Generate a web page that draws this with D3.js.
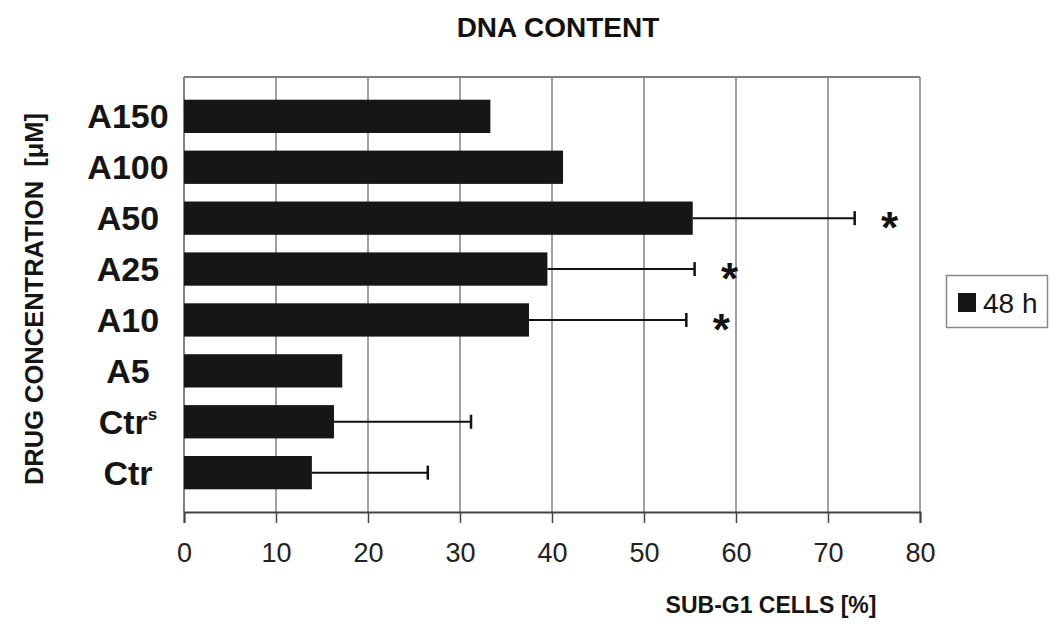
<!DOCTYPE html>
<html>
<head>
<meta charset="utf-8">
<script src="https://cdn.jsdelivr.net/npm/d3@7"></script>
<style>
  html, body { margin: 0; padding: 0; background: #fff; }
  svg { display: block; font-family: "Liberation Sans", Arial, sans-serif; }
</style>
</head>
<body>
<svg id="chart" width="1063" height="633"></svg>
<script>
// ---- data (top to bottom) ----
const categories = ["A150", "A100", "A50", "A25", "A10", "A5", "Ctrs", "Ctr"];
const values     = [33.3, 41.2, 55.3, 39.5, 37.5, 17.2, 16.3, 13.9];
const errors     = [null, null, 17.6, 16.0, 17.1, null, 14.9, 12.6];
const significant = [false, false, true, true, true, false, false, false];
const xTicks     = [0, 10, 20, 30, 40, 50, 60, 70, 80];
const seriesName = "48 h";

(function () {
const svg = d3.select("#chart");
const pLeft = 184, pRight = 920, pTop = 77, pBottom = 512;

const x = d3.scaleLinear().domain([0, 80]).range([pLeft, pRight]);
const y = d3.scaleBand().domain(categories).range([pTop, pBottom])
  .paddingInner(0.346).paddingOuter(0.446);

// title
svg.append("text").attr("x", 558).attr("y", 37).attr("text-anchor", "middle")
  .attr("font-size", 28).attr("font-weight", "bold").attr("fill", "#111")
  .text("DNA CONTENT");

// gridlines
svg.append("g").selectAll("line").data(xTicks.slice(1)).join("line")
  .attr("x1", d => x(d)).attr("x2", d => x(d))
  .attr("y1", pTop).attr("y2", pBottom)
  .attr("stroke", "#808080").attr("stroke-width", 1.5);

// plot border top / left
svg.append("line").attr("x1", pLeft).attr("x2", pRight).attr("y1", pTop).attr("y2", pTop)
  .attr("stroke", "#808080").attr("stroke-width", 2);
svg.append("line").attr("x1", pLeft).attr("x2", pLeft).attr("y1", pTop).attr("y2", pBottom)
  .attr("stroke", "#808080").attr("stroke-width", 2);

// bottom axis
const xAxis = d3.axisBottom(x).tickValues(xTicks).tickSize(11).tickPadding(20).tickFormat(d3.format("d"));
const gx = svg.append("g").attr("transform", `translate(0,${pBottom})`).call(xAxis);
gx.select(".domain").attr("stroke", "#444").attr("stroke-width", 2);
gx.selectAll(".tick line").attr("stroke", "#444").attr("stroke-width", 1.5);
gx.selectAll(".tick text").attr("font-size", 27).attr("fill", "#222")
  .attr("font-family", "'Liberation Sans', Arial, sans-serif");

// bars
svg.append("g").selectAll("rect").data(categories).join("rect")
  .attr("x", x(0))
  .attr("y", d => y(d))
  .attr("width", (d, i) => x(values[i]) - x(0))
  .attr("height", y.bandwidth())
  .attr("fill", "#161616");

// error bars
const eb = svg.append("g");
categories.forEach((c, i) => {
  if (errors[i] == null) return;
  const cy = y(c) + y.bandwidth() / 2;
  const x1 = x(values[i]), x2 = x(values[i] + errors[i]);
  eb.append("line").attr("x1", x1).attr("x2", x2).attr("y1", cy).attr("y2", cy)
    .attr("stroke", "#111").attr("stroke-width", 2);
  eb.append("line").attr("x1", x2).attr("x2", x2).attr("y1", cy - 7).attr("y2", cy + 7)
    .attr("stroke", "#111").attr("stroke-width", 2.5);
  if (significant[i]) {
    eb.append("text").attr("x", x2 + 35).attr("y", cy + 25)
      .attr("text-anchor", "middle").attr("font-size", 44).attr("font-weight", "bold")
      .attr("fill", "#111").text("*");
  }
});

// category labels
const lab = svg.append("g");
categories.forEach(c => {
  const cy = y(c) + y.bandwidth() / 2;
  const t = lab.append("text").attr("x", 128).attr("y", cy + 12)
    .attr("text-anchor", "middle").attr("font-size", 34).attr("font-weight", "bold")
    .attr("fill", "#151515");
  if (c === "Ctrs") {
    t.append("tspan").text("Ctr");
    t.append("tspan").attr("font-size", 17).attr("dy", -14).text("s");
  } else {
    t.text(c);
  }
});

// y axis title
svg.append("text").attr("transform", "translate(43,299) rotate(-90)")
  .attr("text-anchor", "middle").attr("font-size", 25.5).attr("font-weight", "bold")
  .attr("fill", "#151515").text("DRUG CONCENTRATION\u00A0\u00A0[\u03BCM]");

// x axis title
svg.append("text").attr("x", 771).attr("y", 613).attr("text-anchor", "middle")
  .attr("font-size", 23).attr("font-weight", "bold").attr("fill", "#151515")
  .text("SUB-G1 CELLS [%]");

// legend
const lg = svg.append("g");
lg.append("rect").attr("x", 946.5).attr("y", 275.5).attr("width", 101).attr("height", 52)
  .attr("fill", "#fff").attr("stroke", "#888").attr("stroke-width", 1.5);
lg.append("rect").attr("x", 958).attr("y", 293).attr("width", 18).attr("height", 19).attr("fill", "#161616");
lg.append("text").attr("x", 983).attr("y", 313).attr("font-size", 28).attr("fill", "#151515").text(seriesName);
})();
</script>
</body>
</html>
